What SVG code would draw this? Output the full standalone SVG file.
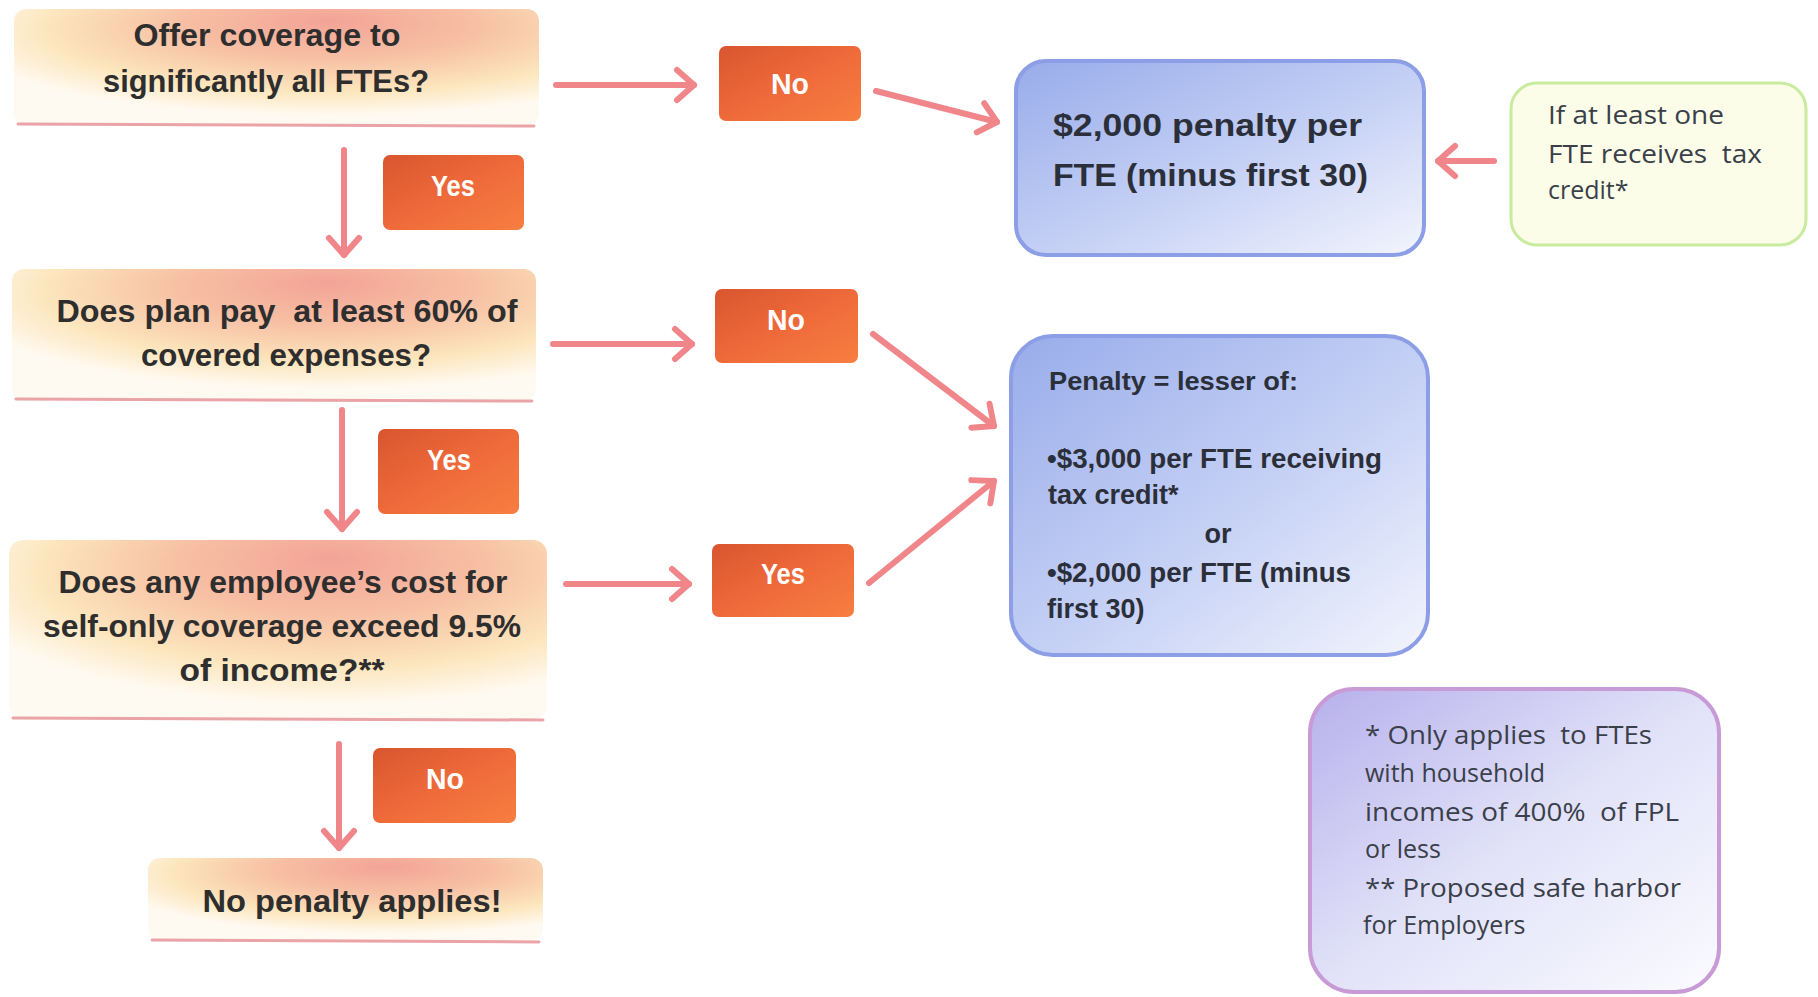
<svg xmlns="http://www.w3.org/2000/svg" width="1818" height="997" viewBox="0 0 1818 997">
<defs>
<style>
.q{font-family:"Liberation Sans",Arial,sans-serif;font-weight:bold;font-size:32px;fill:#2e2e2e;text-anchor:middle;white-space:pre}
.lbl{font-family:"Liberation Sans",Arial,sans-serif;font-weight:bold;font-size:29px;fill:#fff;text-anchor:middle}
.bt{font-family:"Liberation Sans",Arial,sans-serif;font-weight:bold;fill:#2b2f3a;white-space:pre}
.nt{font-family:"Open Sans","Liberation Sans",sans-serif;font-size:25px;fill:#3a3f4a;white-space:pre}
.arr{stroke:#f0868a;stroke-width:6;fill:none;stroke-linecap:round;marker-end:url(#ah)}
.ob{fill:url(#og)}
.lb{fill:url(#lg)}
.sh{stroke:#eaa3a6;stroke-width:3;stroke-linecap:round}
</style>
<marker id="ah" markerUnits="userSpaceOnUse" markerWidth="40" markerHeight="40" refX="0" refY="0" viewBox="-20 -20 40 40" orient="auto" overflow="visible">
<path d="M -17 -15 L 0 0 L -17 15" fill="none" stroke="#f0868a" stroke-width="6" stroke-linecap="round" stroke-linejoin="round"/>
</marker>
<radialGradient id="lg" cx="0.6" cy="0.2" r="0.72" fx="0.6" fy="0.1">
<stop offset="0" stop-color="#f3a396"/>
<stop offset="0.4" stop-color="#f7c0a4"/>
<stop offset="0.75" stop-color="#fce6bd"/>
<stop offset="1" stop-color="#fffaf1"/>
</radialGradient>
<linearGradient id="og" x1="0" y1="0" x2="1" y2="1">
<stop offset="0" stop-color="#d8552f"/>
<stop offset="0.5" stop-color="#ef6a3a"/>
<stop offset="1" stop-color="#f77e41"/>
</linearGradient>
<linearGradient id="bg" x1="0" y1="0" x2="1" y2="1">
<stop offset="0" stop-color="#98acea"/>
<stop offset="0.55" stop-color="#c6d1f5"/>
<stop offset="1" stop-color="#f3f5fd"/>
</linearGradient>
<linearGradient id="pg" x1="0" y1="0" x2="1" y2="1">
<stop offset="0" stop-color="#b7b0ec"/>
<stop offset="0.5" stop-color="#e1e2f8"/>
<stop offset="1" stop-color="#fbfbff"/>
</linearGradient>
</defs>
<rect width="1818" height="997" fill="#fff"/>

<g id="connectors">
<line class="arr" x1="556" y1="85" x2="694" y2="85"/>
<line class="arr" x1="876" y1="91" x2="997" y2="122"/>
<line class="arr" x1="1494" y1="161" x2="1438" y2="161"/>
<line class="arr" x1="344" y1="150" x2="344" y2="255"/>
<line class="arr" x1="553" y1="344" x2="692" y2="344"/>
<line class="arr" x1="873" y1="334" x2="994" y2="426"/>
<line class="arr" x1="342" y1="410" x2="342" y2="529"/>
<line class="arr" x1="566" y1="584" x2="689" y2="584"/>
<line class="arr" x1="869" y1="583" x2="994" y2="481"/>
<line class="arr" x1="339" y1="744" x2="339" y2="848"/>
</g>

<g id="q1">
<rect class="lb" x="14" y="9" width="525" height="116" rx="12"/>
<line class="sh" x1="18" y1="124" x2="534" y2="126"/>
<text class="q" x="267" y="46" textLength="267" lengthAdjust="spacingAndGlyphs">Offer coverage to</text>
<text class="q" x="266" y="92" textLength="326" lengthAdjust="spacingAndGlyphs">significantly all FTEs?</text>
</g>
<g id="q2">
<rect class="lb" x="12" y="269" width="524" height="131" rx="12"/>
<line class="sh" x1="16" y1="399" x2="532" y2="401"/>
<text class="q" x="287" y="322" textLength="461" lengthAdjust="spacingAndGlyphs">Does plan pay  at least 60% of</text>
<text class="q" x="286" y="366" textLength="290" lengthAdjust="spacingAndGlyphs">covered expenses?</text>
</g>
<g id="q3">
<rect class="lb" x="9" y="540" width="538" height="179" rx="14"/>
<line class="sh" x1="13" y1="718" x2="543" y2="720"/>
<text class="q" x="283" y="593" textLength="449" lengthAdjust="spacingAndGlyphs">Does any employee’s cost for</text>
<text class="q" x="282" y="637" textLength="478" lengthAdjust="spacingAndGlyphs">self-only coverage exceed 9.5%</text>
<text class="q" x="282" y="681" textLength="205" lengthAdjust="spacingAndGlyphs">of income?**</text>
</g>
<g id="q4">
<rect class="lb" x="148" y="858" width="395" height="83" rx="12"/>
<line class="sh" x1="152" y1="940" x2="539" y2="942"/>
<text class="q" x="352" y="912" textLength="299" lengthAdjust="spacingAndGlyphs">No penalty applies!</text>
</g>

<g id="no1"><rect class="ob" x="719" y="46" width="142" height="75" rx="7"/><text class="lbl" x="790" y="94" textLength="38" lengthAdjust="spacingAndGlyphs">No</text></g>
<g id="yes1"><rect class="ob" x="383" y="155" width="141" height="75" rx="7"/><text class="lbl" x="453" y="196" textLength="44" lengthAdjust="spacingAndGlyphs">Yes</text></g>
<g id="no2"><rect class="ob" x="715" y="289" width="143" height="74" rx="7"/><text class="lbl" x="786" y="330" textLength="38" lengthAdjust="spacingAndGlyphs">No</text></g>
<g id="yes2"><rect class="ob" x="378" y="429" width="141" height="85" rx="7"/><text class="lbl" x="449" y="470" textLength="44" lengthAdjust="spacingAndGlyphs">Yes</text></g>
<g id="yes3"><rect class="ob" x="712" y="544" width="142" height="73" rx="7"/><text class="lbl" x="783" y="584" textLength="44" lengthAdjust="spacingAndGlyphs">Yes</text></g>
<g id="no3"><rect class="ob" x="373" y="748" width="143" height="75" rx="7"/><text class="lbl" x="445" y="789" textLength="38" lengthAdjust="spacingAndGlyphs">No</text></g>

<g id="pen1">
<rect x="1016" y="61" width="408" height="194" rx="30" fill="url(#bg)" stroke="#8c9ee6" stroke-width="4"/>
<text class="bt" x="1053" y="136" font-size="32" textLength="309" lengthAdjust="spacingAndGlyphs">$2,000 penalty per</text>
<text class="bt" x="1053" y="186" font-size="32" textLength="315" lengthAdjust="spacingAndGlyphs">FTE (minus first 30)</text>
</g>
<g id="cond">
<rect x="1511" y="83" width="295" height="162" rx="26" fill="#fbfde9" stroke="#c8eb9f" stroke-width="3"/>
<text class="nt" x="1548" y="124" textLength="176" lengthAdjust="spacingAndGlyphs">If at least one</text>
<text class="nt" x="1548" y="163" textLength="214" lengthAdjust="spacingAndGlyphs">FTE receives  tax</text>
<text class="nt" x="1548" y="199">credit*</text>
</g>
<g id="pen2">
<rect x="1011" y="336" width="417" height="319" rx="42" fill="url(#bg)" stroke="#8c9ee6" stroke-width="4"/>
<text class="bt" x="1049" y="390" font-size="25" textLength="249" lengthAdjust="spacingAndGlyphs">Penalty = lesser of:</text>
<text class="bt" x="1047" y="468" font-size="27" textLength="335" lengthAdjust="spacingAndGlyphs">•$3,000 per FTE receiving</text>
<text class="bt" x="1048" y="504" font-size="27">tax credit*</text>
<text class="bt" x="1218" y="543" font-size="27" text-anchor="middle">or</text>
<text class="bt" x="1047" y="582" font-size="27" textLength="304" lengthAdjust="spacingAndGlyphs">•$2,000 per FTE (minus</text>
<text class="bt" x="1047" y="618" font-size="27">first 30)</text>
</g>
<g id="note">
<rect x="1310" y="689" width="409" height="303" rx="44" fill="url(#pg)" stroke="#c89ad6" stroke-width="4"/>
<text class="nt" x="1365" y="744" textLength="287" lengthAdjust="spacingAndGlyphs">* Only applies  to FTEs</text>
<text class="nt" x="1365" y="782">with household</text>
<text class="nt" x="1365" y="821" textLength="314" lengthAdjust="spacingAndGlyphs">incomes of 400%  of FPL</text>
<text class="nt" x="1365" y="858">or less</text>
<text class="nt" x="1365" y="897" textLength="316" lengthAdjust="spacingAndGlyphs">** Proposed safe harbor</text>
<text class="nt" x="1363" y="934">for Employers</text>
</g>
</svg>
